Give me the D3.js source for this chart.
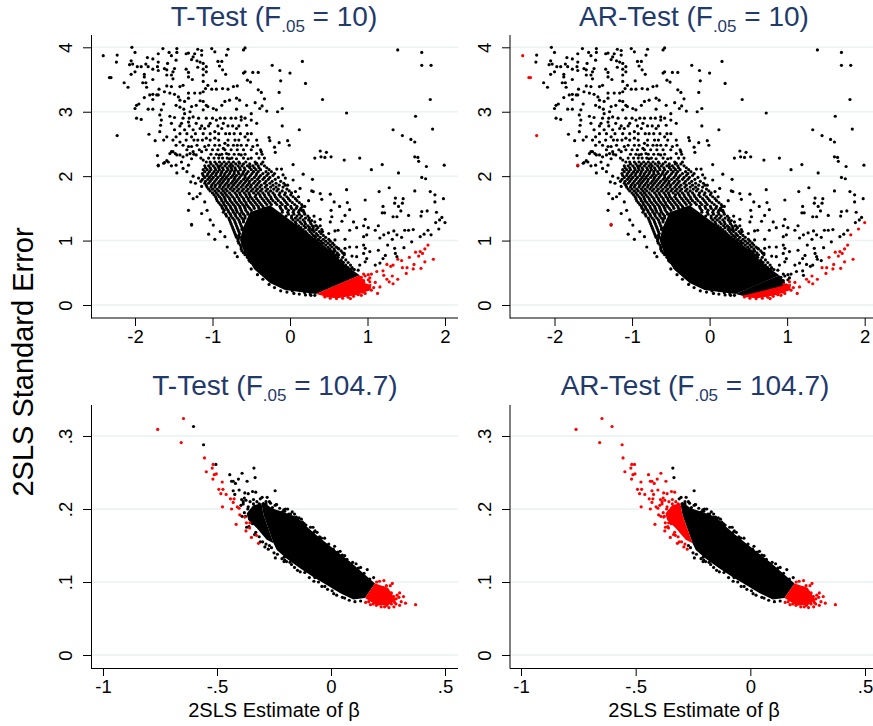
<!DOCTYPE html>
<html>
<head>
<meta charset="utf-8">
<script src="https://d3js.org/d3.v7.min.js"></script>
<style>
body { margin: 0; background: #fff; }
text { font-family: "Liberation Sans", Arial, sans-serif; }
.domain { stroke: #000; }
</style>
</head>
<body>
<svg width="873" height="726"></svg>
<script>
var upperXTicks = [-2, -1, 0, 1, 2],
    upperXLabels = ["-2", "-1", "0", "1", "2"],
    upperYTicks = [0, 1, 2, 3, 4],
    upperYLabels = ["0", "1", "2", "3", "4"],
    lowerXTicks = [-1, -0.5, 0, 0.5],
    lowerXLabels = ["-1", "-.5", "0", ".5"],
    lowerYTicks = [0, 0.1, 0.2, 0.3],
    lowerYLabels = ["0", ".1", ".2", ".3"];

// each pair is [2SLS estimate, standard error]
// black in every upper panel
var upperCommon = [[-2.23,3.88],[-2.24,3.77],[-2.14,3.45],[-2.09,3.38],[-2.04,4.0],[-2.0,3.92],[-1.64,3.98],[-1.46,3.98],[-1.46,3.92],[-1.56,3.92],[-1.7,3.9],[-1.84,3.84],[-1.77,3.82],[-1.53,3.87],[-1.47,3.8],[-1.34,3.9],[-1.31,3.91],[-1.23,3.9],[-1.19,3.97],[-1.14,3.95],[-1.14,3.88],[-1.25,3.85],[-1.27,3.81],[-1.01,3.98],[-0.97,3.93],[-0.8,3.97],[-0.82,3.88],[-0.6,3.96],[-0.58,3.99],
[-2.05,3.79],[-2.07,3.73],[-2.03,3.74],[-1.97,3.7],[-1.92,3.7],[-1.86,3.74],[-1.83,3.7],[-2.05,3.58],[-2.0,3.62],[-1.88,3.58],[-1.88,3.54],[-1.77,3.66],[-1.7,3.77],[-1.71,3.7],[-1.77,3.5],[-1.7,3.64],[-1.62,3.67],[-1.58,3.75],[-1.59,3.65],[-1.51,3.62],[-1.53,3.57],[-1.59,3.57],[-1.49,3.67],[-1.34,3.66],[-1.31,3.61],[-1.31,3.54],[-1.26,3.5],[-1.51,3.51],[-1.2,3.79],[-1.16,3.77],[-1.12,3.75],[-1.08,3.7],[-1.19,3.69],[-1.12,3.66],[-1.08,3.62],[-1.12,3.57],[-0.93,3.78],[-0.88,3.78],[-0.91,3.71],[-0.87,3.65],[-0.83,3.58],[-0.6,3.6],[-0.58,3.62],[-0.48,3.61],[-0.41,3.61],[-0.55,3.49],[-0.51,3.46],[-0.41,3.34],
[-1.9,3.45],[-1.86,3.45],[-1.85,3.38],[-1.59,3.4],[-1.53,3.39],[-1.42,3.39],[-1.38,3.41],[-1.12,3.47],[-0.96,3.48],[-1.06,3.41],[-1.09,3.36],[-1.01,3.35],[-1.12,3.31],[-0.95,3.35],[-0.87,3.36],[-0.8,3.35],[-0.73,3.39],[-0.68,3.4],[-1.69,3.35],[-1.62,3.31],[-1.55,3.29],[-1.77,3.27],[-1.81,3.26],[-1.72,3.26],[-1.88,3.22],[-1.77,3.19],[-1.95,3.12],[-1.98,3.1],[-2.0,3.05],[-1.83,3.04],[-1.77,3.04],[-1.7,3.26],[-1.49,3.27],[-1.44,3.23],[-1.42,3.18],[-1.31,3.29],[-1.23,3.29],[-1.16,3.29],[-1.31,3.21],[-1.36,3.16],[-1.47,3.1],[-1.42,3.07],[-1.16,3.17],[-1.12,3.16],[-1.08,3.1],[-1.21,3.1],[-1.27,3.08],[-1.63,3.12],[-1.66,3.03],[-1.37,3.04],[-1.29,3.0],[-1.12,3.03],[-1.06,3.08],[-0.99,3.05],[-0.95,3.03],[-0.88,3.1],[-0.84,3.16],[-0.78,3.18],[-0.69,3.21],[-0.65,3.18],[-0.56,3.1],[-0.45,3.14],[-0.69,3.04],[-0.39,3.05],
[-0.37,3.3],[-0.33,3.2],[-0.36,3.09],[-0.3,3.01],[-0.23,3.72],[-0.13,3.64],[0.16,3.78],[0.2,3.44],[0.42,3.19],[0.0,3.6],[-0.12,3.48],[-0.14,3.3],[-0.16,3.0],[-0.1,3.05],[1.39,3.96],[1.7,3.92],[1.7,3.72],[1.82,3.72],[1.81,3.19],[1.62,2.93],[1.33,2.72],[1.84,2.73],[1.45,2.63],[1.56,2.57],[1.61,2.53],[0.73,2.98],[0.12,2.72],[0.4,2.3],[0.47,2.37],[0.53,2.3],[0.9,2.28],[1.61,2.3],[-0.1,2.78],[-0.27,2.6],[-0.26,2.55],[-0.14,2.52],[-0.2,2.45],[-0.03,2.55],[-0.01,2.48],
[-1.98,2.9],[-1.92,2.88],[-1.82,2.65],[-1.74,2.55],[-1.68,2.95],[-1.66,2.87],[-1.67,2.79],[-1.55,2.93],[-1.49,2.91],[-1.53,2.82],[-1.68,2.69],[-1.59,2.61],[-1.49,2.72],[-1.47,2.61],[-1.51,2.56],[-1.42,2.53],[-1.36,2.97],[-1.38,2.9],[-1.31,2.84],[-1.4,2.82],[-1.36,2.72],[-1.25,2.92],[-1.21,2.82],[-1.25,2.72],[-1.16,2.74],[-1.27,2.61],[-1.19,2.56],[-1.08,2.9],[-1.03,2.82],[-1.1,2.74],[-0.95,2.87],[-0.84,2.9],[-0.86,2.82],[-0.97,2.69],[-0.88,2.74],[-0.78,2.66],[-0.69,2.74],[-0.63,2.92],[-0.63,2.87],[-0.5,2.97],[-0.5,2.87],[-0.56,2.79],[-0.43,2.82],[-0.71,2.56],[-0.58,2.61],[-0.5,2.66],[-0.43,2.56],[-1.08,2.59],[-0.97,2.59],[-0.84,2.51],[-1.1,2.46],[-0.97,2.48],[-0.86,2.43],[-0.73,2.48],[-0.63,2.48],[-0.48,2.46],[-1.27,2.46],[-1.31,2.46],[-1.47,2.48],[-1.51,2.38],[-1.55,2.35],[-1.71,2.32],[-1.7,2.16],[-1.62,2.21],[-1.57,2.22],[-1.47,2.17],[-1.46,2.33],[-1.38,2.3],[-1.4,2.22],[-1.25,2.38],[-1.21,2.33],[-1.27,2.27],[-1.31,2.17],[-1.14,2.38],[-1.12,2.25],[-0.91,2.33],[-0.82,2.35],[-0.78,2.27],[-0.69,2.27],[-0.63,2.33],[-0.54,2.27],[-0.43,2.35],[-0.65,2.2],[-0.52,2.15],[-0.43,2.2],
[-1.31,1.47],[-1.27,1.24],[-1.05,1.1],[-0.97,1.02],[-1.14,1.42],[-1.25,1.65],[-1.3,1.73],[-1.28,1.91],[-1.33,2.07],[-1.59,2.24],[-1.53,2.16],[-1.46,2.05],[-1.63,2.2],[-1.38,2.12],[-1.53,2.38],[-1.48,2.35],[-1.42,2.33],[-1.33,2.33],[-1.29,2.35],[-1.63,2.56],
[-0.81,0.9],[-0.71,0.81],[-0.68,0.75],[-0.9,1.14],[-0.84,1.06],[-1.03,1.32],[-0.99,1.24],[-1.07,1.47],[-1.1,1.6],[-1.2,1.68],[-1.16,1.73],[-1.14,1.84],[-1.22,1.89],[-1.25,2.0],[-1.18,1.97],
[-0.5,0.56],[-0.42,0.47],[-0.35,0.4],[-0.27,0.32],[-0.2,0.27],[-0.12,0.22],[-0.04,0.2],[0.05,0.18],[0.12,0.17],[0.2,0.155],[0.27,0.15],[0.32,0.15],[-0.47,0.7],[-0.37,0.53],[-0.3,0.5],[-0.19,0.41],[-0.09,0.32],[0.03,0.22],[0.19,0.19],[0.26,0.17],[-0.52,0.68],
[-0.37,2.38],[-0.19,2.37],[0.39,2.39],[0.45,2.29],[0.32,2.28],[0.7,2.25],[0.04,2.18],[-0.17,2.11],[-0.11,2.11],[0.17,2.03],[-0.09,2.02],[-0.06,1.97],[0.04,1.94],[0.29,1.95],[1.05,2.1],[1.19,2.18],[1.4,2.05],[1.65,2.29],[1.66,2.23],[1.76,2.15],[1.99,2.17],[1.7,1.98],[1.75,1.96],
[-0.06,1.86],[0.13,1.81],[0.07,1.76],[0.28,1.77],[0.3,1.76],[0.39,1.73],[0.73,1.79],[0.52,1.72],[1.15,1.76],[1.28,1.82],[1.61,1.77],[1.81,1.76],[1.87,1.71],[0.11,1.68],[0.24,1.62],[0.41,1.64],[0.57,1.6],[0.74,1.59],[0.97,1.63],[1.36,1.66],[1.46,1.65],[1.98,1.65],[1.87,1.6],[1.35,1.58],[1.45,1.58],[0.19,1.53],[0.15,1.47],[0.64,1.53],[0.53,1.47],[0.77,1.48],[1.2,1.53],[1.4,1.53],[1.19,1.43],[1.22,1.43],[1.43,1.46],[1.77,1.46],[1.7,1.45],[1.89,1.44],[0.31,1.38],[0.39,1.33],[0.54,1.37],[0.71,1.39],[1.33,1.37],[1.38,1.37],[1.53,1.39],[1.69,1.38],[1.96,1.36],[1.93,1.32],[0.52,1.29],[0.28,1.31],[0.67,1.3],[0.97,1.33],[0.82,1.29],[1.88,1.28],[0.25,1.2],[0.33,1.23],[0.39,1.23],[0.95,1.23],[1.01,1.2],[0.86,1.2],[1.14,1.23],[0.3,1.16],[0.42,1.14],[0.5,1.11],[0.58,1.15],[0.62,1.16],[0.77,1.16],[1.1,1.16],[1.34,1.15],[1.48,1.16],[1.53,1.16],[1.59,1.17],[1.78,1.16],[1.27,1.12],[1.21,1.09],[1.38,1.09],[1.73,1.1],[1.68,1.06],[0.95,1.06],[1.16,1.04],[0.25,1.05],[0.58,1.01],[0.71,1.02],[0.99,1.09],[1.32,1.02],[1.44,1.05],
[1.57,0.98],[1.26,0.93],[0.95,0.93],[0.86,0.9],[0.97,0.88],[0.77,0.9],[0.71,0.88],[0.62,0.88],[0.56,0.83],[0.61,0.77],[0.7,0.8],[0.8,0.76],[0.86,0.75],[0.95,0.8],[1.03,0.83],[1.14,0.85],[1.35,0.88],[1.47,0.89],[1.23,0.77],[1.2,0.72],[0.99,0.72],[0.97,0.67],[1.36,0.8],[1.38,0.75],[1.16,0.65],[1.1,0.62],[0.9,0.62],[0.88,0.54],[0.8,0.57],[0.73,0.59],[0.67,0.67],[0.58,0.7],[0.52,0.75],[0.47,0.85],[0.41,0.96],[0.37,1.01],[0.32,1.07]];

// the crowded part of the cloud, row by row: [standard error, [estimates]]
var upperRows = [
[2.9,[-1.3,-1.18,-1.0,-0.9,-0.76,-0.7,-0.58]],[2.78,[-1.42,-1.3,-1.14,-1.05,-0.93,-0.8,-0.74,-0.66]],[2.66,[-1.42,-1.33,-1.22,-1.12,-1.03,-0.92,-0.83,-0.72,-0.64,-0.55]],
[2.56,[-1.34,-1.24,-1.13,-1.03,-0.92,-0.8,-0.66,-0.54]],[2.48,[-1.38,-1.2,-1.05,-0.91,-0.8,-0.68,-0.56,-0.42]],[2.41,[-1.33,-1.17,-1.08,-1.0,-0.93,-0.84,-0.76,-0.68,-0.6,-0.5,-0.38]],
[2.34,[-1.24,-1.02,-0.95,-0.88,-0.79,-0.72,-0.66,-0.58,-0.36]],[2.28,[-1.15,-1.05,-0.98,-0.92,-0.87,-0.81,-0.75,-0.6,-0.5,-0.4,-0.33]],[2.22,[-1.08,-1.03,-0.97,-0.91,-0.85,-0.79,-0.73,-0.66,-0.57,-0.45,-0.35]],
[2.16,[-1.1,-1.05,-0.99,-0.93,-0.9,-0.84,-0.78,-0.74,-0.67,-0.62,-0.55,-0.48,-0.41,-0.33]],[2.1,[-1.12,-1.07,-1.02,-0.96,-0.91,-0.86,-0.8,-0.75,-0.7,-0.64,-0.58,-0.5,-0.44,-0.38,-0.27]],
[2.04,[-1.13,-1.06,-1.0,-0.95,-0.89,-0.84,-0.78,-0.72,-0.66,-0.61,-0.56,-0.49,-0.43,-0.35,-0.28,-0.2]],[1.98,[-1.1,-1.04,-0.99,-0.93,-0.87,-0.82,-0.76,-0.71,-0.65,-0.58,-0.53,-0.46,-0.4,-0.33,-0.26,-0.15]],
[1.92,[-1.15,-1.09,-1.03,-0.97,-0.91,-0.86,-0.8,-0.74,-0.69,-0.63,-0.57,-0.52,-0.45,-0.39,-0.31,-0.23,-0.12]],[1.86,[-1.08,-1.01,-0.96,-0.9,-0.84,-0.79,-0.73,-0.67,-0.61,-0.55,-0.5,-0.43,-0.37,-0.3,-0.22,-0.14,-0.03]],
[1.8,[-1.05,-1.0,-0.94,-0.88,-0.83,-0.77,-0.72,-0.66,-0.6,-0.54,-0.48,-0.42,-0.36,-0.29,-0.21,-0.15,-0.04]],[1.74,[-1.0,-0.95,-0.89,-0.84,-0.78,-0.71,-0.65,-0.59,-0.53,-0.47,-0.41,-0.35,-0.28,-0.22,-0.13,-0.06,0.02]],
[1.68,[-0.96,-0.91,-0.85,-0.8,-0.74,-0.68,-0.62,-0.56,-0.51,-0.45,-0.38,-0.32,-0.25,-0.19,-0.12,-0.04,0.04]],[1.62,[-0.94,-0.88,-0.83,-0.77,-0.71,-0.65,-0.59,-0.53,-0.47,-0.41,-0.34,-0.28,-0.22,-0.15,-0.07,0,0.09]],
[1.56,[-0.9,-0.85,-0.79,-0.73,-0.67,-0.61,-0.56,-0.49,-0.43,-0.37,-0.3,-0.24,-0.17,-0.1,-0.03,0.06,0.15]],[1.5,[-0.87,-0.82,-0.76,-0.7,-0.64,-0.58,-0.52,-0.46,-0.4,-0.34,-0.12,-0.05,0.02,0.08,0.14]],
[1.44,[-0.86,-0.79,-0.73,-0.68,-0.62,-0.55,-0.1,-0.03,0.04,0.11,0.18]],[1.38,[-0.82,-0.76,-0.7,-0.64,-0.58,-0.05,0.02,0.09,0.15,0.23]],[1.32,[-0.78,-0.72,-0.66,-0.6,0.04,0.1,0.17,0.24]],
[1.26,[-0.76,-0.7,-0.64,0.08,0.15,0.2,0.27]],[1.2,[-0.74,-0.68,-0.62,0.14,0.2,0.25,0.3,0.36]],[1.14,[-0.72,-0.66,0.2,0.26,0.31,0.38]],[1.08,[-0.7,-0.66,0.24,0.3,0.36,0.43]],
[1.02,[-0.67,0.31,0.36,0.43,0.5]],[0.96,[-0.66,0.37,0.43,0.49,0.55]],[0.9,[-0.63,0.42,0.49,0.54,0.6]],[0.84,[-0.62,0.47,0.53,0.58,0.66]],[0.78,[-0.58,0.53,0.58,0.63,0.7]],[0.7,[-0.53,0.6,0.66,0.72]],[0.62,[-0.47,0.66,0.72,0.78]],[0.55,[-0.42,0.72,0.77,0.83]],
[2.19,[-1.02,-0.95,-0.88,-0.82,-0.76,-0.7,-0.6,-0.52,-0.44,-0.37]],[2.13,[-1.09,-1.03,-0.97,-0.92,-0.87,-0.81,-0.76,-0.71,-0.65,-0.59,-0.52,-0.46,-0.4,-0.3]],[2.07,[-1.1,-1.04,-0.98,-0.93,-0.88,-0.82,-0.77,-0.72,-0.67,-0.6,-0.54,-0.47,-0.41,-0.31,-0.24]],
[2.01,[-1.12,-1.07,-1.02,-0.96,-0.9,-0.85,-0.8,-0.74,-0.69,-0.63,-0.58,-0.51,-0.44,-0.38,-0.3,-0.22]],[1.95,[-1.13,-1.06,-1.01,-0.95,-0.89,-0.84,-0.79,-0.72,-0.67,-0.6,-0.55,-0.49,-0.42,-0.35,-0.28,-0.19]],
[1.89,[-1.1,-1.05,-0.99,-0.93,-0.88,-0.82,-0.76,-0.71,-0.65,-0.59,-0.53,-0.47,-0.41,-0.33,-0.26,-0.18,-0.08]],[1.83,[-1.07,-1.02,-0.97,-0.91,-0.86,-0.8,-0.75,-0.69,-0.63,-0.57,-0.51,-0.45,-0.39,-0.32,-0.25,-0.18,-0.09]],
[1.77,[-1.03,-0.97,-0.92,-0.86,-0.81,-0.74,-0.68,-0.62,-0.56,-0.5,-0.44,-0.38,-0.31,-0.25,-0.17,-0.1,-0.01]],[1.71,[-0.98,-0.93,-0.87,-0.82,-0.76,-0.69,-0.64,-0.57,-0.52,-0.44,-0.39,-0.33,-0.27,-0.2,-0.14,-0.07,0.01]],
[1.65,[-0.95,-0.89,-0.84,-0.78,-0.72,-0.66,-0.6,-0.54,-0.49,-0.43,-0.36,-0.3,-0.24,-0.17,-0.09,-0.02,0.07]],[1.59,[-0.92,-0.86,-0.81,-0.75,-0.69,-0.63,-0.57,-0.51,-0.45,-0.39,-0.32,-0.26,-0.19,-0.12,-0.05,0.03,0.12]],
[1.53,[-0.88,-0.83,-0.77,-0.71,-0.65,-0.59,-0.54,-0.47,-0.41,-0.35,-0.13,-0.06,0.01,0.09,0.16]],[1.47,[-0.85,-0.8,-0.74,-0.69,-0.63,-0.57,-0.5,-0.1,-0.02,0.05,0.12,0.17]],[1.41,[-0.83,-0.77,-0.71,-0.65,-0.6,-0.54,-0.02,0.05,0.12,0.19]],
[1.35,[-0.79,-0.74,-0.68,-0.62,-0.58,0.02,0.07,0.13,0.2,0.25]],[1.29,[-0.77,-0.71,-0.65,-0.6,0.07,0.13,0.19,0.26,0.32]],[1.23,[-0.75,-0.69,-0.63,0.11,0.18,0.23,0.29,0.34]],[1.17,[-0.73,-0.67,-0.62,0.17,0.24,0.28,0.34,0.41]],
[1.11,[-0.71,-0.65,0.22,0.28,0.34,0.4]],[1.05,[-0.69,-0.65,0.27,0.33,0.39,0.46]],[0.99,[-0.67,0.34,0.4,0.46,0.52]],[0.93,[-0.64,0.39,0.46,0.52,0.57]],[0.87,[-0.63,0.45,0.51,0.57,0.63]],[0.81,[-0.6,0.5,0.56,0.61,0.68]],[0.74,[-0.55,0.56,0.62,0.68]],[0.66,[-0.5,0.63,0.69,0.75]],[0.58,[-0.45,0.69,0.75,0.8]]];

// red under the t-test, black under the AR test
var upperTOnly = [[1.25,0.63],[1.3,0.6],[1.33,0.62],[1.39,0.71],[1.44,0.69],[1.12,0.52],[1.2,0.53],[1.21,0.46],[1.05,0.48],[1.01,0.47],[0.97,0.45],[0.95,0.48],[1.01,0.39],[0.99,0.31],[1.03,0.42],[0.93,0.38],[0.95,0.38],[0.92,0.43]];
// black under the t-test, red under the AR test
var upperArOnly = [[-2.41,3.87],[-2.33,3.53],[-2.31,3.53],[-2.23,2.63],[-1.7,2.17],[-1.27,1.25],[2.0,1.28],[1.92,1.18],[1.82,1.09]];
// red under both tests
var upperBoth = [[1.74,0.87],[1.71,0.8],[1.66,0.76],[1.62,0.82],[1.68,0.83],[1.54,0.74],[1.85,0.71],[1.74,0.67],[1.6,0.63],[1.45,0.58],[1.51,0.58],[1.59,0.56],[1.69,0.57],[1.5,0.49],[1.25,0.4],[1.32,0.45],[1.39,0.4],[1.28,0.36],[1.33,0.33],[1.1,0.35],[1.16,0.28],[1.08,0.27],[1.13,0.18],[1.05,0.23],[0.97,0.18],[1.78,0.93],
[0.45,0.125],[0.52,0.105],[0.6,0.1],[0.68,0.105],[0.75,0.12],[0.82,0.135],[0.88,0.16],[0.94,0.2],[1.0,0.24],[1.0,0.3],[0.96,0.32],[1.03,0.36],[0.92,0.15],[0.78,0.1]];

// outlines of the overplotted areas where single dots can no longer be told apart
var upperCore = [[-0.606,1.2],[-0.516,1.44],[-0.258,1.55],[0,1.32],[0.258,1.09],[0.516,0.85],[0.71,0.62],[0.9,0.46],[0.335,0.17],[0.13,0.2],[-0.065,0.233],[-0.258,0.342],[-0.452,0.543],[-0.58,0.776],[-0.645,1.01]];
var upperTip = [[0.335,0.17],[0.6,0.31],[0.9,0.46],[0.97,0.36],[0.98,0.24],[0.82,0.16],[0.645,0.115],[0.474,0.13]];
var upperStrip = [[0.41,0.14],[0.864,0.275],[1.05,0.33],[1.04,0.233],[0.864,0.155],[0.606,0.104],[0.47,0.12]];

var lowerCommon = [[-0.338,0.256],[-0.333,0.243],[-0.302,0.216],[-0.28,0.216],[-0.245,0.225],[-0.24,0.206],[-0.257,0.202],[-0.213,0.196],[-0.203,0.197],[-0.178,0.193],[-0.152,0.189],[-0.261,0.147],[-0.244,0.133],[-0.206,0.128],[-0.173,0.124],[-0.079,0.175],[-0.061,0.168],[-0.042,0.16],[-0.028,0.16],[-0.047,0.155],[0.016,0.149],[0.06,0.136],[0.159,0.117],[0.187,0.106],[0.012,0.084],[-0.206,0.134],[-0.203,0.13],[-0.147,0.116],[-0.071,0.106],[-0.027,0.094],[-0.239,0.206],[-0.207,0.199],[-0.19,0.2],[-0.17,0.196],[-0.13,0.186],[-0.118,0.18],[-0.1,0.17],[-0.285,0.21],[-0.27,0.21],[0.11,0.125],[0.13,0.12],[0.04,0.142],[-0.07,0.17],[0.06,0.078],
[-0.31,0.214],[-0.285,0.207],[-0.265,0.208],[-0.245,0.205],[-0.225,0.201],[-0.2,0.2],[-0.185,0.193],[-0.16,0.193],[-0.14,0.188],[-0.125,0.182],[-0.11,0.178],[-0.09,0.175],[-0.075,0.168],[-0.05,0.162],[-0.03,0.152],[-0.01,0.152],[0.01,0.145],[0.03,0.141],[0.05,0.137],[0.07,0.131],[0.095,0.127],[0.12,0.119],[0.145,0.112],[0.17,0.104],
[-0.27,0.15],[-0.25,0.14],[-0.235,0.138],[-0.215,0.132],[-0.195,0.128],[-0.18,0.127],[-0.16,0.12],[-0.135,0.114],[-0.115,0.113],[-0.095,0.106],[-0.075,0.101],[-0.055,0.1],[-0.04,0.094],[-0.015,0.09],[0.005,0.088],[0.025,0.082],[0.05,0.079],[0.08,0.075],[0.105,0.073],[0.13,0.074]];
var lowerArOnly = [[-0.603,0.313],[-0.559,0.288],[-0.505,0.261],[-0.444,0.247],[-0.39,0.249],[-0.406,0.241],[-0.368,0.238],[-0.419,0.235],[-0.436,0.238],[-0.429,0.238],[-0.429,0.225],[-0.422,0.22],[-0.403,0.226],[-0.378,0.222],[-0.363,0.221],[-0.344,0.224],[-0.33,0.223],[-0.385,0.21],[-0.392,0.213],[-0.373,0.212],[-0.385,0.207],[-0.363,0.203],[-0.349,0.198],[-0.355,0.21],[-0.34,0.207],[-0.395,0.205],[-0.38,0.215],
[-0.375,0.19],[-0.365,0.2],[-0.35,0.19],[-0.345,0.18],[-0.33,0.168],[-0.315,0.162],[-0.3,0.155],[-0.285,0.152],[-0.355,0.195],[-0.34,0.213],[-0.325,0.21],[-0.315,0.207],[-0.38,0.195],[-0.36,0.176],[-0.335,0.165],[-0.29,0.148],[-0.39,0.19],[-0.37,0.175],[-0.31,0.155],[-0.275,0.145]];
var lowerBoth = [[-0.76,0.309],[-0.647,0.324],[-0.657,0.291],[-0.555,0.27],[-0.517,0.261],[-0.521,0.256],[-0.547,0.251],[-0.512,0.247],[-0.503,0.248],[-0.518,0.241],[-0.477,0.237],[-0.492,0.227],[-0.474,0.227],[-0.483,0.221],[-0.46,0.22],[-0.441,0.214],[-0.425,0.214],[-0.429,0.209],[-0.476,0.203],[-0.436,0.2],[-0.411,0.203],[-0.403,0.201],[-0.4,0.192],[-0.378,0.189],[-0.371,0.181],[-0.356,0.181],[-0.416,0.179],[-0.357,0.174],[-0.373,0.17],[-0.327,0.164],[-0.349,0.161],[-0.318,0.153],
[0.213,0.101],[0.232,0.102],[0.269,0.098],[0.243,0.095],[0.26,0.095],[0.301,0.085],[0.318,0.08],[0.298,0.079],[0.327,0.071],[0.371,0.069],[0.308,0.073],[0.301,0.068],[0.279,0.072],[0.276,0.066],[0.254,0.065],[0.235,0.066],[0.199,0.068],[0.173,0.069],[0.152,0.072],[0.265,0.079],[0.286,0.077],
[0.2,0.1],[0.215,0.092],[0.23,0.092],[0.245,0.088],[0.255,0.085],[0.265,0.085],[0.275,0.08],[0.285,0.07],[0.265,0.07],[0.245,0.068],[0.22,0.066],[0.21,0.07],[0.185,0.07],[0.165,0.073],[0.25,0.075],[0.29,0.082]];
var lowerCore = [[-0.305,0.208],[-0.297,0.21],[-0.26,0.201],[-0.209,0.196],[-0.15,0.189],[-0.107,0.176],[-0.063,0.164],[-0.019,0.153],[0.025,0.142],[0.083,0.128],[0.142,0.112],[0.193,0.098],[0.149,0.078],[0.098,0.076],[0.039,0.085],[-0.019,0.096],[-0.078,0.107],[-0.136,0.119],[-0.194,0.132],[-0.238,0.144],[-0.252,0.153],[-0.296,0.192]];
var lowerCap = [[-0.37,0.194],[-0.341,0.205],[-0.305,0.208],[-0.296,0.192],[-0.252,0.153],[-0.282,0.158],[-0.326,0.174],[-0.363,0.185]];
var lowerTip = [[0.193,0.098],[0.25,0.092],[0.285,0.075],[0.25,0.068],[0.2,0.068],[0.149,0.078]];

var ink = "#000000", red = "#ff0000", gridColor = "#eaf2f3", titleColor = "#1f3a6b";

var svg = d3.select("svg");

upperRows.forEach(function(row) {
    row[1].forEach(function(b) { upperCommon.push([b, row[0]]); });
});

function drawPanel(p) {
    var x = d3.scaleLinear().domain(p.xDomain).range(p.xRange);
    var y = d3.scaleLinear().domain(p.yDomain).range(p.yRange);
    var g = svg.append("g");

    var line = d3.line()
        .x(function(d) { return x(d[0]); })
        .y(function(d) { return y(d[1]); })
        .curve(d3.curveLinearClosed);

    // grid
    g.append("g").selectAll("line")
        .data(p.yTicks)
        .join("line")
        .attr("x1", p.left).attr("x2", p.right)
        .attr("y1", function(d) { return y(d); })
        .attr("y2", function(d) { return y(d); })
        .attr("stroke", gridColor)
        .attr("stroke-width", 1.5);

    // axes
    var xAxis = d3.axisBottom(x).tickValues(p.xTicks).tickSize(8).tickPadding(4)
        .tickFormat(function(d, i) { return p.xLabels[i]; });
    var yAxis = d3.axisLeft(y).tickValues(p.yTicks).tickSize(8).tickPadding(5)
        .tickFormat(function(d, i) { return p.yLabels[i]; });

    var gx = g.append("g").attr("transform", "translate(0," + p.bottom + ")").call(xAxis);
    gx.select(".domain").attr("d", "M" + p.left + "," + p.xLine + "H" + p.right);
    gx.selectAll("text").attr("font-size", 18.5).attr("fill", "#000");

    var gy = g.append("g").attr("transform", "translate(" + p.left + ",0)").call(yAxis);
    gy.select(".domain").attr("d", "M" + p.yLine + "," + p.top + "V" + (p.bottom + 0.5));
    gy.selectAll("text")
        .attr("font-size", 18.5)
        .attr("fill", "#000")
        .attr("x", 0).attr("dy", 0)
        .attr("text-anchor", "middle")
        .attr("transform", "translate(-19,0) rotate(-90)");

    var dots = g.append("g");
    function drawDots(rows, colour) {
        dots.append("g").selectAll("circle")
            .data(rows)
            .join("circle")
            .attr("cx", function(d) { return x(d[0]); })
            .attr("cy", function(d) { return y(d[1]); })
            .attr("r", 1.6)
            .attr("fill", colour);
    }
    function drawArea(rows, colour) {
        dots.append("path").attr("d", line(rows)).attr("fill", colour);
    }

    drawDots(p.black, ink);
    p.blackAreas.forEach(function(a) { drawArea(a, ink); });
    p.redAreas.forEach(function(a) { drawArea(a, red); });
    drawDots(p.red, red);

    // title, with the small subscript
    var t = g.append("text")
        .attr("x", p.titleX).attr("y", p.titleY)
        .attr("text-anchor", "middle")
        .attr("font-size", 28)
        .attr("fill", titleColor);
    t.append("tspan").text(p.title + " (F");
    t.append("tspan").attr("font-size", 17).attr("dy", 6).text(".05");
    t.append("tspan").attr("dy", -6).text(" = " + p.fValue + ")");

    if (p.xTitle) {
        g.append("text")
            .attr("x", p.labelX).attr("y", 717)
            .attr("text-anchor", "middle")
            .attr("font-size", 20)
            .attr("fill", "#000")
            .text("2SLS Estimate of β");
    }
}

var upperPanel = { top: 35, bottom: 318, xTicks: upperXTicks, xLabels: upperXLabels, yTicks: upperYTicks, yLabels: upperYLabels,
    xDomain: [-2, 2], yDomain: [0, 4], yRange: [305, 47.3], titleY: 25.5, fValue: "10", xLine: 0 };
var lowerPanel = { top: 405, bottom: 668, xTicks: lowerXTicks, xLabels: lowerXLabels, yTicks: lowerYTicks, yLabels: lowerYLabels,
    xDomain: [-1, 0.5], yDomain: [0, 0.3], yRange: [655, 436], titleY: 395, fValue: "104.7", xTitle: true, xLine: 0.5 };

drawPanel(Object.assign({}, upperPanel, { left: 91, right: 458, xRange: [135, 445], title: "T-Test", titleX: 274, yLine: 0.5,
    black: upperCommon.concat(upperArOnly), red: upperTOnly.concat(upperBoth),
    blackAreas: [upperCore], redAreas: [upperTip, upperStrip] }));
drawPanel(Object.assign({}, upperPanel, { left: 510, right: 873, xRange: [554.5, 864.7], title: "AR-Test", titleX: 694, yLine: 0,
    black: upperCommon.concat(upperTOnly), red: upperArOnly.concat(upperBoth),
    blackAreas: [upperCore, upperTip], redAreas: [upperStrip] }));
drawPanel(Object.assign({}, lowerPanel, { left: 91, right: 458, xRange: [103, 445], title: "T-Test", titleX: 275, labelX: 274, yLine: 0.5,
    black: lowerCommon.concat(lowerArOnly), red: lowerBoth,
    blackAreas: [lowerCore, lowerCap], redAreas: [lowerTip] }));
drawPanel(Object.assign({}, lowerPanel, { left: 510, right: 873, xRange: [521, 865], title: "AR-Test", titleX: 695, labelX: 694, yLine: 0,
    black: lowerCommon, red: lowerArOnly.concat(lowerBoth),
    blackAreas: [lowerCore], redAreas: [lowerCap, lowerTip] }));

svg.append("text")
    .attr("transform", "translate(33,362) rotate(-90)")
    .attr("text-anchor", "middle")
    .attr("font-size", 29)
    .attr("fill", "#000")
    .text("2SLS Standard Error");
</script>
</body>
</html>
